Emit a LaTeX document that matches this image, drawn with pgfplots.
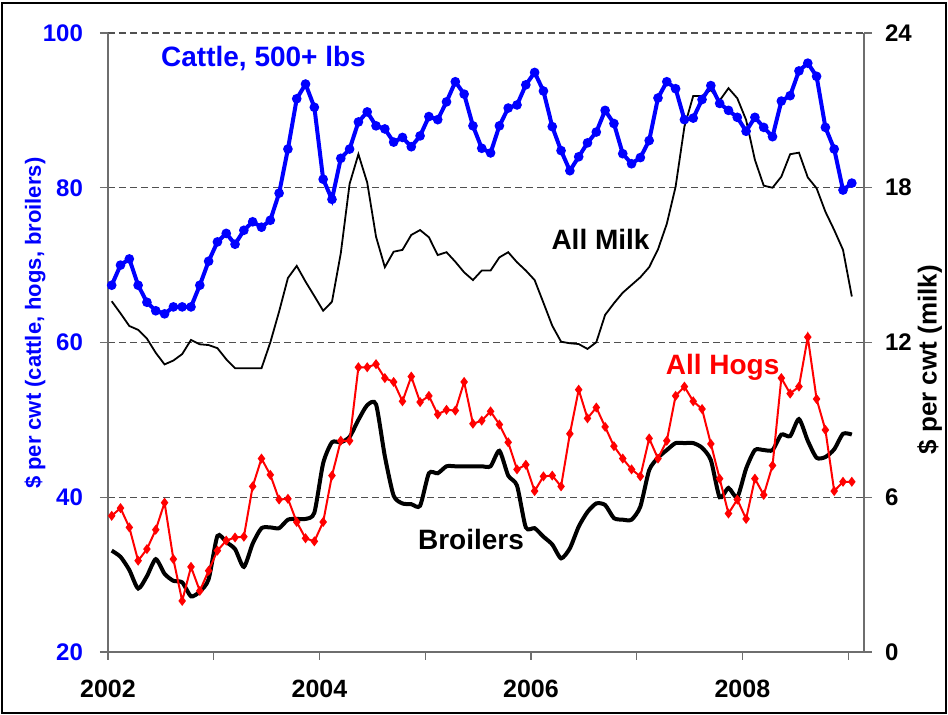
\documentclass[border=0pt]{standalone}
\usepackage{fontspec}
\setmainfont{Liberation Sans}
\usepackage{pgfplots}
\usepackage{pgfplotstable}
\pgfplotsset{compat=1.18}

% monthly prices, Jan 2002 (m=0) to Jan 2009 (m=84)
\pgfplotstableread{
m cattle hogs broilers milk
0 67.4 37.6 33.1 13.6
1 70.0 38.6 32.3 13.13
2 70.8 36.1 30.6 12.64
3 67.4 31.8 28.2 12.49
4 65.2 33.3 29.8 12.15
5 64.1 35.8 32.0 11.6
6 63.7 39.3 30.1 11.15
7 64.6 32.0 29.2 11.3
8 64.6 26.6 29.0 11.55
9 64.6 31.0 27.2 12.1
10 67.4 27.9 27.8 11.93
11 70.5 30.5 29.4 11.9
12 73.0 33.1 35.0 11.78
13 74.1 34.4 34.2 11.35
14 72.7 34.8 33.3 11.0
15 74.5 34.9 31.0 11.0
16 75.6 41.4 34.0 11.0
17 74.9 45.0 36.0 11.0
18 75.8 42.9 36.1 12.0
19 79.3 39.7 36.0 13.2
20 85.0 39.8 37.1 14.5
21 91.5 36.8 37.2 14.97
22 93.4 34.7 37.2 14.36
23 90.4 34.3 38.0 13.8
24 81.1 36.8 44.4 13.23
25 78.5 42.8 47.1 13.58
26 83.8 47.3 47.1 15.46
27 85.0 47.3 47.8 18.15
28 88.5 56.8 50.0 19.3
29 89.8 56.8 51.9 18.2
30 88.0 57.2 52.0 16.1
31 87.6 55.4 45.3 14.92
32 85.9 54.9 40.2 15.52
33 86.5 52.4 39.2 15.59
34 85.3 55.6 39.1 16.17
35 86.7 52.3 38.9 16.36
36 89.2 53.1 43.1 16.08
37 88.8 50.7 43.1 15.39
38 91.1 51.3 44.0 15.5
39 93.7 51.2 44.0 15.13
40 92.1 54.9 44.0 14.72
41 88.0 49.5 44.0 14.42
42 85.1 49.9 44.0 14.79
43 84.5 51.1 44.0 14.79
44 88.0 49.4 46.0 15.3
45 90.3 47.1 42.8 15.5
46 90.7 43.6 41.5 15.11
47 93.3 44.2 36.1 14.79
48 94.9 40.8 36.0 14.42
49 92.5 42.7 34.9 13.54
50 87.9 42.8 33.9 12.65
51 84.8 41.4 32.1 12.03
52 82.2 48.2 33.4 11.97
53 84.0 53.9 36.2 11.94
54 85.8 50.2 38.1 11.75
55 87.2 51.6 39.2 12.01
56 90.0 49.1 39.0 13.07
57 88.3 46.6 37.3 13.52
58 84.4 45.0 37.1 13.93
59 83.1 43.6 37.1 14.23
60 83.9 42.7 38.8 14.53
61 86.1 47.6 43.5 14.92
62 91.6 45.0 45.1 15.61
63 93.7 47.3 46.1 16.6
64 92.8 53.1 47.0 18.04
65 88.8 54.3 47.0 20.37
66 89.0 52.4 47.0 21.56
67 91.4 51.4 46.4 21.56
68 93.2 46.9 44.8 21.79
69 90.9 42.4 40.0 21.38
70 90.0 37.9 41.2 21.86
71 89.1 39.7 40.0 21.47
72 87.3 37.2 43.7 20.63
73 89.1 42.4 46.1 19.08
74 87.8 40.3 46.1 18.08
75 86.6 44.1 46.1 18.0
76 91.2 55.4 48.1 18.43
77 91.9 53.4 47.9 19.3
78 95.1 54.3 50.1 19.36
79 96.1 60.7 47.3 18.4
80 94.4 52.7 45.1 17.98
81 87.8 48.7 45.2 17.07
82 85.0 40.8 46.2 16.36
83 79.7 42.0 48.2 15.59
84 80.6 42.0 48.1 13.78
}\prices

\definecolor{axisgray}{RGB}{110,110,110}
\definecolor{gridgray}{RGB}{80,80,80}

\pgfplotsset{
  common/.style={
    scale only axis, width=378pt, height=309.5pt,
    at={(0,0)}, anchor=south west,
    xmin=0, xmax=85.8,
    axis line style={-, draw=axisgray, line width=0.7pt},
    tick style={axisgray, line width=0.6pt},
    tick align=outside, major tick length=4pt,
    /pgf/number format/assume math mode=true,
    ticklabel style={font=\fontsize{12}{12}\selectfont\bfseries},
  },
}

\begin{document}
\begin{tikzpicture}
\path[use as bounding box] (-54pt,-31.5pt) rectangle (420pt,326pt);
\draw[black, line width=0.8pt] (-53pt,-30.5pt) rectangle (419pt,324.5pt);

% right axis: milk, drawn first so that the grid lies underneath
\begin{axis}[common,
  axis y line*=right, axis x line=none,
  ymin=0, ymax=24, ytick={0,6,...,24},
  ymajorgrids, grid style={gridgray, line width=0.65pt, dash pattern=on 3.5pt off 2pt},
  yticklabel style={xshift=3pt},
  ylabel={\$ per cwt (milk)},
  every axis y label/.style={at={(axis description cs:1.087,0.472)}, rotate=90, anchor=center,
    font=\fontsize{13}{13}\selectfont\bfseries},
]
\addplot[black, line width=0.9pt] table[x expr=\thisrow{m}+0.42, y=milk] {\prices};
\end{axis}

% left axis: cattle, hogs, broilers
\begin{axis}[common,
  axis y line*=left, axis x line*=bottom,
  ymin=20, ymax=100, ytick={20,40,...,100},
  xtick={0,12,...,84}, xticklabels={2002,,2004,,2006,,2008,},
  xticklabel style={yshift=-6.5pt, font=\fontsize{12.5}{12.5}\selectfont\bfseries},
  yticklabel style={xshift=-5pt, text=blue},
  ylabel={\$ per cwt (cattle, hogs, broilers)},
  every axis y label/.style={at={(axis description cs:-0.0966,0.531)}, rotate=90, anchor=center,
    font=\fontsize{11}{11}\selectfont\bfseries, text=blue},
  clip=false,
]
\addplot[black, line width=2pt, smooth, tension=0.4] table[x expr=\thisrow{m}+0.42, y=broilers] {\prices};
\addplot[red, line width=1pt, mark=diamond*, mark size=1.7pt] table[x expr=\thisrow{m}+0.42, y=hogs] {\prices};
\addplot[blue, line width=2pt, mark=*, mark size=1.35pt] table[x expr=\thisrow{m}+0.42, y=cattle] {\prices};

\node[font=\fontsize{14}{14}\selectfont\bfseries, text=blue, anchor=base] at (axis cs:17.65,95.65) {Cattle, 500+ lbs};
\node[font=\fontsize{14}{14}\selectfont\bfseries, anchor=base] at (axis cs:55.9,72.05) {All Milk};
\node[font=\fontsize{14}{14}\selectfont\bfseries, text=red, anchor=base] at (axis cs:69.75,55.81) {All Hogs};
\node[font=\fontsize{14}{14}\selectfont\bfseries, anchor=base] at (axis cs:41.2,33.29) {Broilers};
\end{axis}
\end{tikzpicture}
\end{document}
